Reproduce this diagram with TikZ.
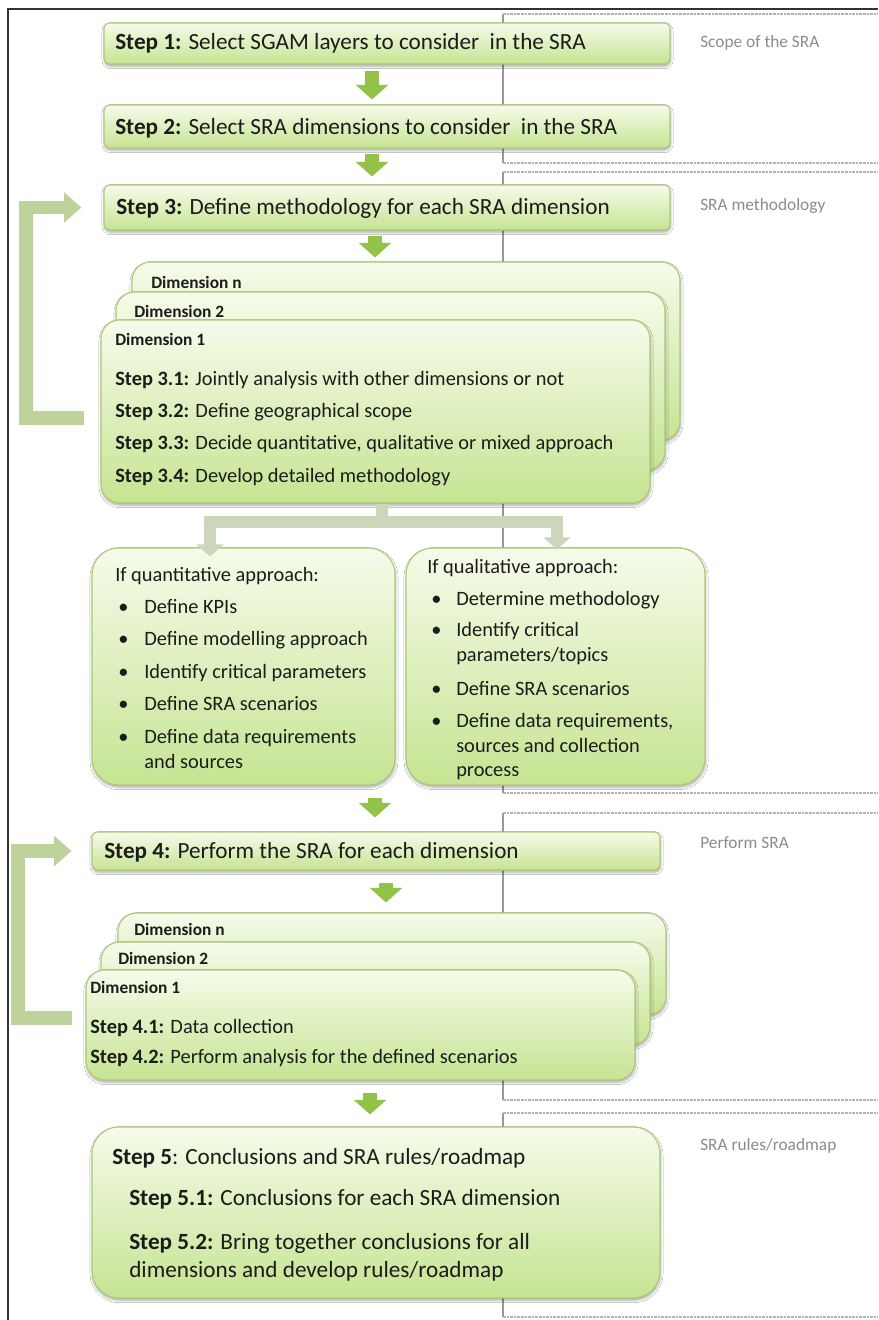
\documentclass[tikz,border=0pt]{standalone}
\usepackage{fontspec}
\setmainfont{Carlito}
\usetikzlibrary{arrows.meta,calc,fit,shadows.blur}

\definecolor{boxline}{RGB}{172,202,122}
\definecolor{boxtop}{RGB}{246,251,234}
\definecolor{boxbot}{RGB}{198,228,146}
\definecolor{flowgreen}{RGB}{146,194,72}
\definecolor{loopgreen}{RGB}{192,210,156}
\definecolor{splitgreen}{RGB}{204,214,186}
\definecolor{regiongray}{RGB}{178,178,178}
\definecolor{labelgray}{RGB}{140,140,140}
\definecolor{ink}{RGB}{28,28,28}

\begin{document}
\begin{tikzpicture}[x=0.75pt,y=-0.75pt,line join=miter,
  panel/.style={draw=boxline, line width=0.8pt, top color=boxtop, bottom color=boxbot,
    inner sep=0pt,
    blur shadow={shadow xshift=0.4pt, shadow yshift=-1.6pt, shadow blur steps=6, shadow opacity=35}},
  stepbox/.style={panel, rounded corners=4.5pt},
  dimbox/.style={panel, rounded corners=14pt},
  optbox/.style={panel, rounded corners=20pt},
  titletext/.style={font=\fontsize{17.4}{20}\selectfont, text=ink, inner sep=0pt, anchor=base west},
  bodytext/.style={font=\fontsize{15.3}{18}\selectfont, text=ink, inner sep=0pt, anchor=base west},
  dimtext/.style={font=\fontsize{13}{15}\selectfont\bfseries, text=ink, inner sep=0pt, anchor=base west},
  regiontext/.style={font=\fontsize{13}{15}\selectfont, text=labelgray, inner sep=0pt, anchor=base west},
  frameline/.style={draw=black!80, line width=1.5pt},
  regionspine/.style={draw=regiongray!85!black, line width=0.8pt},
  regionedge/.style={draw=regiongray, line width=2.2pt, dash pattern=on 2pt off 0.7pt},
  stepflow/.style={draw=flowgreen, line width=10pt, -{Triangle[width=24pt,length=11pt]}},
  loopback/.style={draw=loopgreen, line width=10pt, -{Triangle[width=22pt,length=13pt]}},
  split/.style={draw=splitgreen, line width=8.5pt, -{Triangle[width=20pt,length=9pt]}}
]
\useasboundingbox (0,0) rectangle (878,1320);
\fill[white] (0,0) rectangle (878,1320);

% outer frame
\draw[frameline] (8,1320) -- (8,9) -- (878,9);

% phase brackets on the right
\foreach \ytop/\ybot in {14/163, 172/793, 813/1100, 1113/1317} {
  \draw[regionspine] (503,\ytop) -- (503,\ybot);
  \draw[regionedge] (503,\ytop) -- (878,\ytop);
  \draw[regionedge] (503,\ybot) -- (878,\ybot);
}
\node[regiontext] (r1) at (700,48) {Scope of the SRA};
\node[regiontext] (r2) at (700,210) {SRA methodology};
\node[regiontext] (r3) at (700,848) {Perform SRA};
\node[regiontext] (r4) at (700,1150) {SRA rules/roadmap};

% main steps
\node[stepbox, fit={(104,23) (670,64)}] (s1) {};
\node[stepbox, fit={(104,105) (670,148)}] (s2) {};
\node[stepbox, fit={(104,185) (670,230)}] (s3) {};

% dimension stack for step 3
\node[dimbox, fit={(132,262) (680,440)}] (dn3) {};
\node[dimbox, fit={(116,292) (665,470)}] (dtwo3) {};
\node[dimbox, fit={(101,320) (650,503)}] (done3) {};

% approach boxes
\node[optbox, fit={(92,548) (395,785)}] (qa) {};
\node[optbox, fit={(406,548) (705,785)}] (qb) {};

\node[stepbox, fit={(92,832) (660,870)}] (s4) {};

% dimension stack for step 4
\node[dimbox, fit={(118,913) (666,1015)}] (dn4) {};
\node[dimbox, fit={(101,942) (650,1045)}] (dtwo4) {};
\node[dimbox, fit={(86,970) (635,1080)}] (done4) {};

\node[optbox, fit={(92,1127) (660,1298)}] (s5) {};

% texts
\node[titletext] (t1) at (115,50) {\textbf{Step 1:} Select SGAM layers to consider~ in the SRA};
\node[titletext] (t2) at (115,134) {\textbf{Step 2:} Select SRA dimensions to consider~ in the SRA};
\node[titletext] (t3) at (116,214) {\textbf{Step 3:} Define methodology for each SRA dimension};

\node[dimtext] (ln3) at (151,288) {Dimension n};
\node[dimtext] (ltwo3) at (134,317) {Dimension 2};
\node[dimtext] (lone3) at (115,345) {Dimension 1};
\node[bodytext] (t31) at (115,385) {\textbf{Step 3.1:} Jointly analysis with other dimensions or not};
\node[bodytext] (t32) at (115,417) {\textbf{Step 3.2:} Define geographical scope};
\node[bodytext] (t33) at (115,449) {\textbf{Step 3.3:} Decide quantitative, qualitative or mixed approach};
\node[bodytext] (t34) at (115,482) {\textbf{Step 3.4:} Develop detailed methodology};

\node[bodytext] (qah) at (115,581) {If quantitative approach:};
\foreach \y/\txt [count=\i] in {613/Define KPIs, 645/Define modelling approach,
    678/Identify critical parameters, 710/Define SRA scenarios, 743/Define data requirements} {
  \node[bodytext] (qab\i) at (118,\y) {\textbullet};
  \node[bodytext] (qat\i) at (144,\y) {\txt};
}
\node[bodytext] (qat6) at (144,768) {and sources};

\node[bodytext] (qbh) at (427,573) {If qualitative approach:};
\foreach \y/\txt [count=\i] in {605/Determine methodology, 636/Identify critical,
    695/Define SRA scenarios, 727/{Define data requirements,}} {
  \node[bodytext] (qbb\i) at (431,\y) {\textbullet};
  \node[bodytext] (qbt\i) at (456,\y) {\txt};
}
\node[bodytext] (qbt5) at (456,661) {parameters/topics};
\node[bodytext] (qbt6) at (456,752) {sources and collection};
\node[bodytext] (qbt7) at (456,776) {process};

\node[titletext] (t4) at (104,858) {\textbf{Step 4:} Perform the SRA for each dimension};
\node[dimtext] (ln4) at (134,935) {Dimension n};
\node[dimtext] (ltwo4) at (118,964) {Dimension 2};
\node[dimtext] (lone4) at (90,993) {Dimension 1};
\node[bodytext] (t41) at (90,1033) {\textbf{Step 4.1:} Data collection};
\node[bodytext] (t42) at (90,1063) {\textbf{Step 4.2:} Perform analysis for the defined scenarios};

\node[titletext] (t5) at (112,1164) {\textbf{Step 5}: Conclusions and SRA rules/roadmap};
\node[titletext] (t51) at (129,1205) {\textbf{Step 5.1:} Conclusions for each SRA dimension};
\node[titletext] (t52) at (129,1249) {\textbf{Step 5.2:} Bring together conclusions for all};
\node[titletext] (t52b) at (129,1277) {dimensions and develop rules/roadmap};

% flow arrows between steps
\coordinate (ax1) at (372,0);
\coordinate (ax3) at (375,0);
\coordinate (ax5) at (386,0);
\coordinate (ax6) at (370,0);
\draw[stepflow, shorten <=4.5pt, shorten >=3.75pt] (s1.south -| ax1) -- (s2.north -| ax1);
\draw[stepflow, shorten <=3.75pt, shorten >=6pt] (s2.south -| ax1) -- (s3.north -| ax1);
\draw[stepflow, shorten <=3.75pt, shorten >=3pt] (s3.south -| ax3) -- (dn3.north -| ax3);
\draw[stepflow, shorten <=9pt, shorten >=10.5pt] (qa.south -| ax3) -- (s4.north -| ax3);
\draw[stepflow, shorten <=9pt, shorten >=7.5pt] (s4.south -| ax5) -- (dn4.north -| ax5);
\draw[stepflow, shorten <=9pt, shorten >=9pt] (done4.south -| ax6) -- (s5.north -| ax6);

% split towards the two approaches
\coordinate (fork) at (382,522);
\coordinate (lx) at (210,0);
\coordinate (rx) at (557,0);
\draw[split] (done3.south -| fork) -- (fork) -| ($(qa.north -| lx)+(0,9)$);
\draw[split] (fork) -| ($(qb.north -| rx)+(0,2)$);

% iteration loops over the dimensions
\coordinate (lp3) at (26,418);
\coordinate (lp4) at (18,1018);
\draw[loopback, shorten <=12pt, shorten >=16.5pt] (done3.west |- lp3) -| (lp3 |- s3.west) -- (s3.west);
\draw[loopback, shorten <=10pt, shorten >=15pt] (done4.west |- lp4) -| (lp4 |- s4.west) -- (s4.west);
\end{tikzpicture}
\end{document}
